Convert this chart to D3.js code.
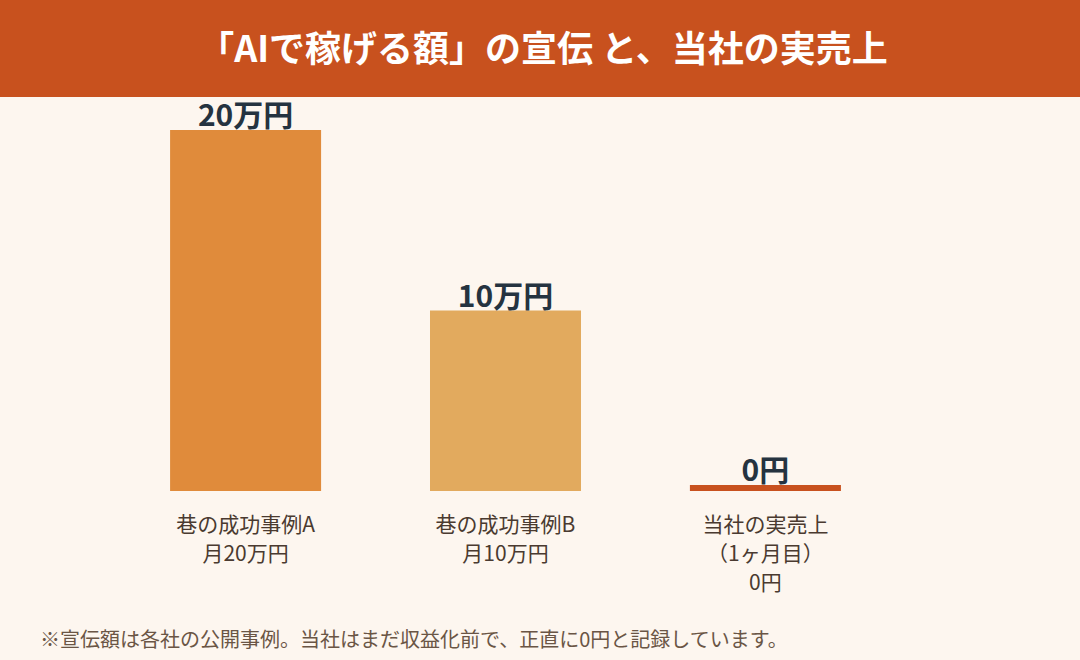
<!DOCTYPE html>
<html><head><meta charset="utf-8">
<script src="https://cdn.jsdelivr.net/npm/d3@7"></script>
<style>body{margin:0;background:#FDF6EF;}svg{display:block;font-family:"Noto Sans CJK JP","Noto Sans",sans-serif;}</style>
</head><body><svg id="c" width="1080" height="660"></svg>
<script>
const categories = ["巷の成功事例A","巷の成功事例B","当社の実売上"];
const subLabels = [["月20万円"],["月10万円"],["（1ヶ月目）","0円"]];
const values = [200000, 100000, 0];
const valueLabels = ["20万円","10万円","0円"];
const colors = ["#E08B3B","#E2AA5E","#C8511E"];
const title = "「AIで稼げる額」の宣伝 と、当社の実売上";
const note = "※宣伝額は各社の公開事例。当社はまだ収益化前で、正直に0円と記録しています。";

const svg = d3.select("#c");
svg.append("rect").attr("width",1080).attr("height",660).attr("fill","#FDF6EF");
svg.append("rect").attr("width",1080).attr("height",97).attr("fill","#C8511E");
svg.append("text").attr("x",543).attr("y",62).attr("text-anchor","middle")
  .attr("fill","#fff").attr("font-size",36).attr("font-weight",700).text(title);

const x = d3.scaleBand().domain(categories).range([115.5,895.5]).paddingInner(0.419).paddingOuter(0.21);
const y = d3.scaleLinear().domain([0,200000]).range([491,130]);
const minH = 6;
categories.forEach((c,i)=>{
  const h = Math.max(y(0)-y(values[i]), minH);
  const cx = x(c)+x.bandwidth()/2;
  svg.append("rect").attr("x",x(c)).attr("width",x.bandwidth())
    .attr("y",y(0)-h).attr("height",h).attr("fill",colors[i]);
  svg.append("text").attr("x",cx).attr("y",y(0)-h-4)
    .attr("text-anchor","middle").attr("font-size",30).attr("font-weight",700)
    .attr("fill","#253340").text(valueLabels[i]);
  const lines=[c,...subLabels[i]];
  lines.forEach((t,j)=>svg.append("text").attr("x",cx).attr("y",532+j*29)
    .attr("text-anchor","middle").attr("font-size",21).attr("fill","#4A3A30").text(t));
});
svg.append("text").attr("x",40).attr("y",647).attr("font-size",20).attr("fill","#6A5545").text(note);
</script></body></html>
